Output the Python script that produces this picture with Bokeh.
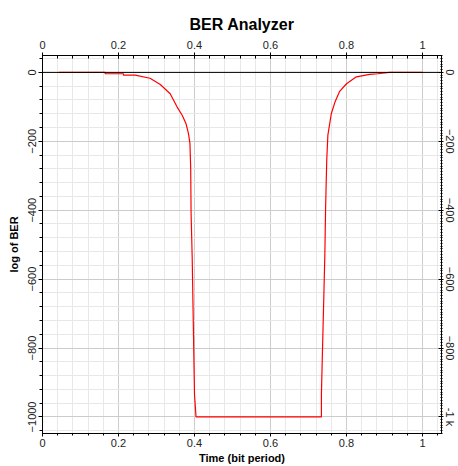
from bokeh.plotting import figure
from bokeh.models import LinearAxis, SingleIntervalTicker, Range1d, Span
from bokeh.embed import file_html
from bokeh.resources import INLINE

# Data (time in bit periods, log of BER)
time = [0.043, 0.165, 0.165, 0.213, 0.213, 0.244, 0.283, 0.310, 0.336, 0.354,
        0.368, 0.378, 0.384, 0.388, 0.390, 0.391, 0.394, 0.396, 0.400, 0.404,
        0.734, 0.734, 0.737, 0.740, 0.743, 0.745, 0.748, 0.751, 0.760, 0.770,
        0.782, 0.800, 0.826, 0.861, 0.882, 0.913, 1.0]
log_ber = [0, 0, -4, -4, -8, -8, -17, -35, -62, -100,
           -125, -150, -177, -206, -278, -408, -540, -673, -934, -1000,
           -1000, -933, -798, -664, -529, -393, -254, -182, -120, -85,
           -55, -33, -13, -6, -4, 0, 0]

x_range = (0, 1.05)
y_range = (-1048, 49)
x_tick_step = 0.2
y_tick_step = 200
zero_level = 0

FONT = "Liberation Sans"

p = figure(width=458, height=466, output_backend="svg", toolbar_location=None,
           x_range=Range1d(*x_range), y_range=Range1d(*y_range),
           x_axis_location=None, y_axis_location=None,
           min_border_left=42, min_border_right=16, min_border_top=55,
           min_border_bottom=32)

p.title.text = "BER Analyzer"
p.title.align = "center"
p.title.text_font = FONT
p.title.text_font_size = "16px"
p.title.text_font_style = "bold"
p.title.text_color = "black"

xt = SingleIntervalTicker(interval=x_tick_step, num_minor_ticks=5)
yt = SingleIntervalTicker(interval=y_tick_step, num_minor_ticks=5)


def style(ax):
    ax.axis_line_color = "black"
    ax.major_tick_line_color = "black"
    ax.minor_tick_line_color = "black"
    ax.major_label_text_font = FONT
    ax.major_label_text_font_size = "11px"
    ax.major_label_text_color = "#222222"
    ax.axis_label_text_font = FONT
    ax.axis_label_text_font_size = "11px"
    ax.axis_label_text_font_style = "bold"
    ax.axis_label_text_color = "black"
    ax.major_label_standoff = 2
    ax.axis_label_standoff = 2


bottom = LinearAxis(ticker=xt, axis_label="Time (bit period)")
style(bottom)
bottom.major_tick_out = 3
bottom.major_tick_in = 0
bottom.minor_tick_out = 2
bottom.minor_tick_in = 0
p.add_layout(bottom, "below")

top = LinearAxis(ticker=SingleIntervalTicker(interval=x_tick_step, num_minor_ticks=5))
style(top)
top.major_tick_out = 3
top.major_tick_in = 3
top.minor_tick_out = 0
top.minor_tick_in = 3
top.major_label_standoff = 4
p.add_layout(top, "above")

left = LinearAxis(ticker=yt, axis_label="log of BER")
style(left)
left.major_tick_out = 4
left.major_tick_in = 0
left.minor_tick_out = 3
left.minor_tick_in = 0
left.major_label_orientation = "vertical"
left.axis_label_standoff = 6
p.add_layout(left, "left")

right = LinearAxis(ticker=SingleIntervalTicker(interval=y_tick_step, num_minor_ticks=25))
style(right)
right.major_tick_out = 2
right.major_tick_in = 3
right.minor_tick_out = 1
right.minor_tick_in = 1
right.major_label_standoff = 0
right.major_label_orientation = "vertical"
right.major_label_overrides = {-1000: "-1 k"}
p.add_layout(right, "right")

p.xgrid.ticker = xt
p.ygrid.ticker = yt
p.xgrid.grid_line_color = "#cccccc"
p.ygrid.grid_line_color = "#cccccc"
p.xgrid.minor_grid_line_color = "#e8e8e8"
p.ygrid.minor_grid_line_color = "#e8e8e8"

p.outline_line_color = "black"
p.background_fill_color = "white"
p.border_fill_color = "white"

p.add_layout(Span(location=zero_level, dimension="width", line_color="black", line_width=1))

p.line(time, log_ber, line_color="#ff0000", line_width=1.2)

open("out.html", "w").write(file_html(p, INLINE))
